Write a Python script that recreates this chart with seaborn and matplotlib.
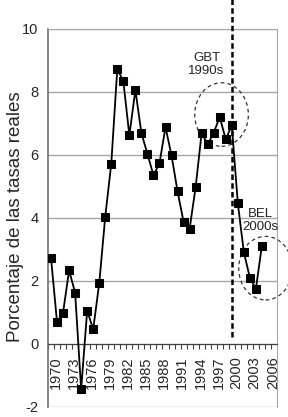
import numpy as np
import pandas as pd
import matplotlib
matplotlib.use("Agg")
import matplotlib.pyplot as plt
import seaborn as sns
from matplotlib.patches import Ellipse

# datos
years = list(range(1970, 2006))
rates = [2.72, 0.68, 0.99, 2.33, 1.62, -1.45, 1.05, 0.46, 1.92, 4.04,
         5.72, 8.73, 8.34, 6.62, 8.06, 6.69, 6.03, 5.35, 5.73, 6.88,
         5.98, 4.84, 3.87, 3.65, 4.97, 6.70, 6.33, 6.70, 7.20, 6.49,
         6.94, 4.47, 2.91, 2.10, 1.74, 3.12]
tick_years = list(range(1970, 2007, 3))
y_ticks = [-2, 0, 2, 4, 6, 8, 10]
split_year = 2000

ylabel = "Porcentaje de las tasas reales"
gbt_label = "GBT\n1990s"
bel_label = "BEL\n2000s"

df = pd.DataFrame({"year": years, "rate": rates})

sns.set_style("white")
plt.rcParams["font.family"] = ["Liberation Sans", "DejaVu Sans"]

fig = plt.figure(figsize=(2.88, 4.17), dpi=100)
ax = fig.add_axes([0.1667, 0.0247, 0.795, 0.906])

grid_c = "#a6a6a6"
for yv in y_ticks:
    ax.axhline(yv, color=grid_c, lw=1.0, zorder=0)

sns.lineplot(data=df, x="year", y="rate", ax=ax, color="black", lw=1.3,
             marker="s", markersize=5.6, markeredgecolor="black",
             markerfacecolor="black", zorder=3)

ax.set_xlim(1969.5, 2007.5)
ax.set_ylim(-2, 10)

# linea vertical discontinua (se sale del area por arriba)
y0, y1 = ax.get_ylim()
ax.axvline(split_year, ymin=(0.22 - y0) / (y1 - y0), ymax=(10.95 - y0) / (y1 - y0),
           color="black", lw=1.8, ls=(0, (2.2, 1.3)), clip_on=False, zorder=4)

# circulos
ax.add_patch(Ellipse((1998.3, 7.28), 8.9, 2.02, fill=False, ec="#333333",
                     lw=0.9, ls=(0, (3, 2.5)), zorder=2))
ax.add_patch(Ellipse((2005.6, 2.40), 8.9, 2.02, fill=False, ec="#333333",
                     lw=0.9, ls=(0, (3, 2.5)), clip_on=False, zorder=2))

ax.text(1995.8, 8.86, gbt_label, ha="center", va="center", fontsize=9.5,
        linespacing=1.1, color="#222222")
ax.text(2004.8, 3.92, bel_label, ha="center", va="center", fontsize=9.5,
        linespacing=1.1, color="#222222")

# ejes
ax.spines["bottom"].set_position(("data", 0))
ax.spines["bottom"].set_color("#404040")
ax.spines["left"].set_color("#707070")
ax.spines["left"].set_linewidth(1.2)
for s in ["top", "right"]:
    ax.spines[s].set_color(grid_c)
    ax.spines[s].set_visible(True)

ax.set_yticks(y_ticks)
ax.set_yticklabels([str(v) for v in y_ticks])
ax.tick_params(axis="y", length=3, color="#707070", pad=4, labelsize=10.5)

ax.set_xticks([y + 0.8 for y in tick_years])
ax.set_xticklabels([str(y) for y in tick_years], rotation=90, fontsize=10.5)
ax.set_xticks([y + 0.5 for y in range(1969, 2007)], minor=True)
ax.tick_params(axis="x", which="major", length=0, pad=9)
ax.tick_params(axis="x", which="minor", length=3.5, color="#404040", width=0.8,
               direction="out", bottom=True)

ax.set_xlabel("")
ax.set_ylabel(ylabel, fontsize=13.5)
ax.yaxis.set_label_coords(-0.105, 0.503)

fig.savefig("out.png", dpi=100)
